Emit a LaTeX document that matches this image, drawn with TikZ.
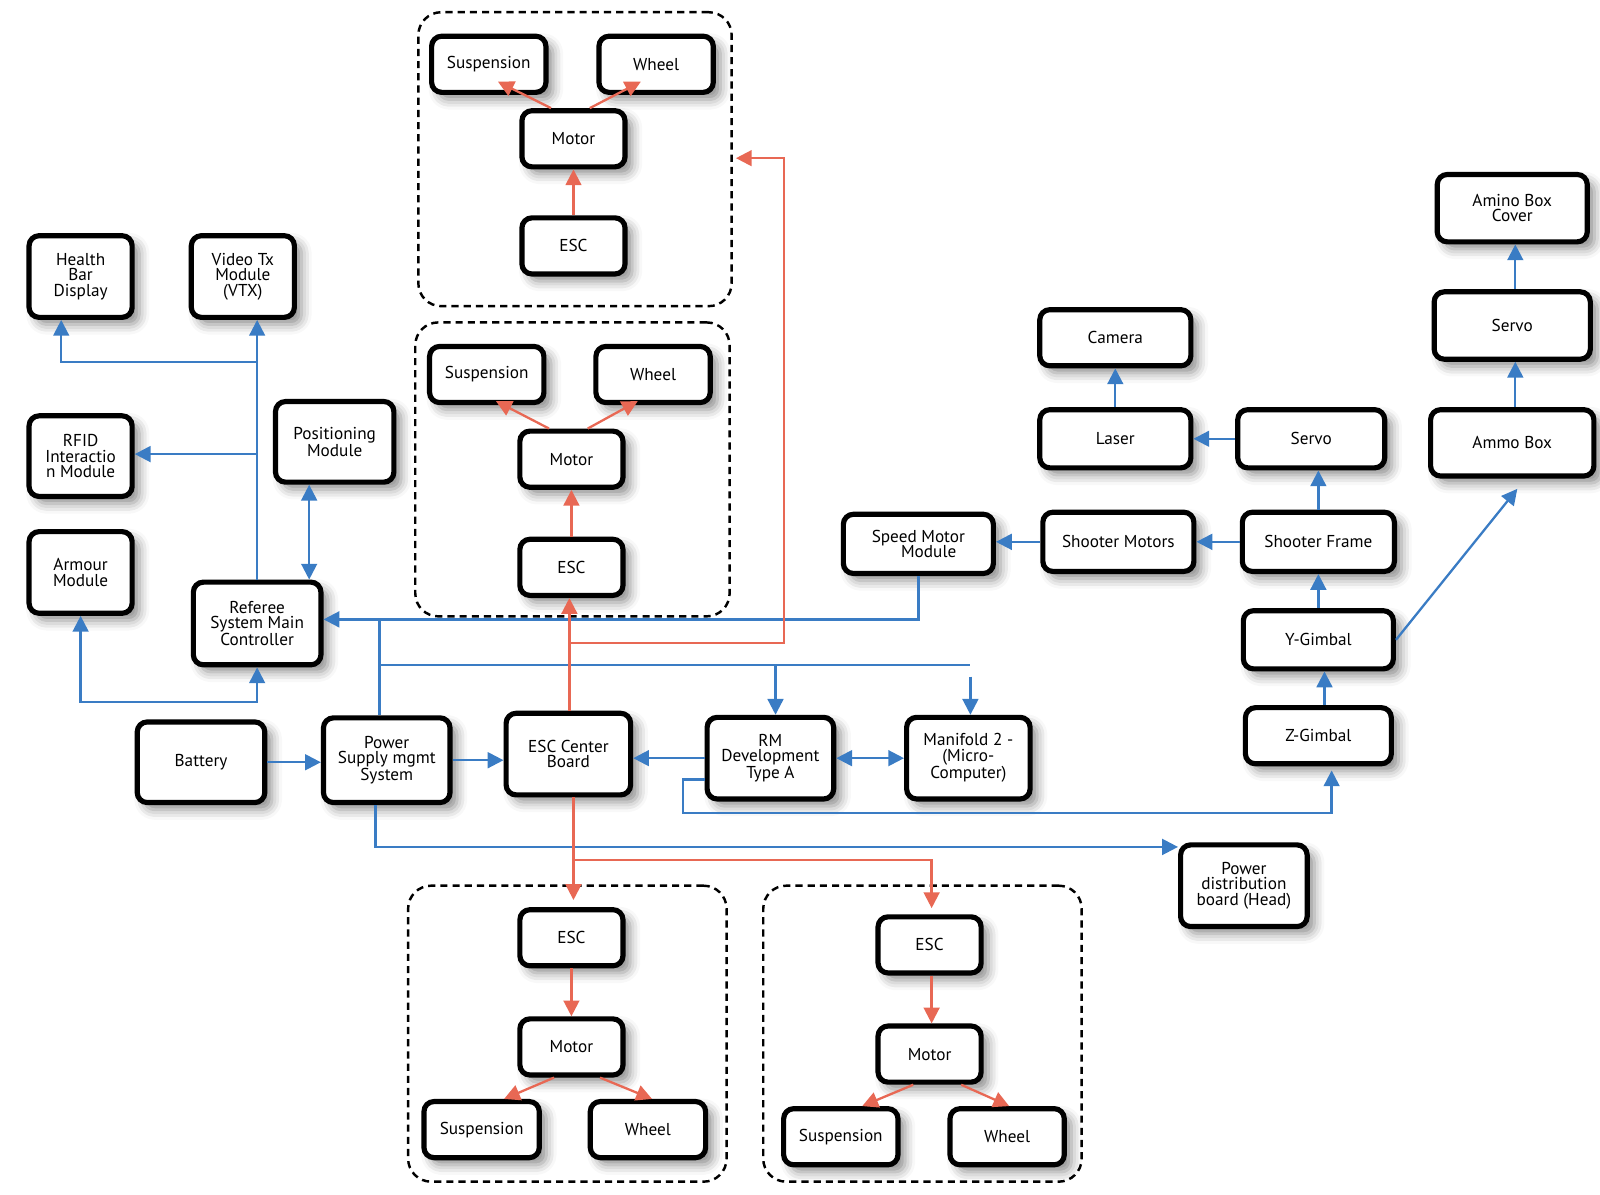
\documentclass[tikz,border=0pt]{standalone}
\usepackage{fontspec}
\setmainfont{PT Sans}
\usetikzlibrary{arrows.meta,shadows.blur}
\definecolor{bluC}{HTML}{3A7CC4}
\definecolor{redC}{HTML}{E86854}
\def\u{0.25mm}
\begin{document}
\begin{tikzpicture}[x=0.025cm,y=-0.025cm,
  font=\fontsize{12}{10.8}\selectfont,
  box/.style={draw=black, line width=3.6pt, fill=white, rounded corners=7pt, align=center, inner sep=2pt,
    blur shadow={shadow xshift=5pt, shadow yshift=-5pt, shadow blur radius=7pt, shadow opacity=45}},
  bx/.style 2 args={minimum width=(#1+4)*\u, minimum height=(#2+3)*\u},
  grp/.style={draw=black, line width=1.7pt, dash pattern=on 5pt off 3.5pt, rounded corners=16pt},
  bl/.style={draw=bluC, line width=1.6pt, -{Triangle[length=11pt,width=11pt]}},
  blb/.style={draw=bluC, line width=1.6pt, {Triangle[length=11pt,width=11pt]}-{Triangle[length=11pt,width=11pt]}},
  bln/.style={draw=bluC, line width=1.6pt},
  rd/.style={draw=redC, line width=1.6pt, -{Triangle[length=11pt,width=11pt]}},
  rdn/.style={draw=redC, line width=1.6pt}
]
\useasboundingbox (0,0) rectangle (1568,1171);

% dashed groups
\node[grp, minimum width=307*\u, minimum height=288*\u] (g1) at (563.5,156) {};
\node[grp, minimum width=308*\u, minimum height=288*\u] (g2) at (561,460) {};
\node[grp, minimum width=312*\u, minimum height=290*\u] (g3) at (556,1013) {};
\node[grp, minimum width=312*\u, minimum height=290*\u] (g4) at (904,1013) {};

% group 1
\node[box, bx={108}{52}] (s1) at (479,63) {Suspension};
\node[box, bx={108}{52}] (w1) at (643,63) {Wheel};
\node[box, bx={97}{52}] (m1) at (562,136) {Motor};
\node[box, bx={97}{52}] (e1) at (562,241) {ESC};
% group 2
\node[box, bx={108}{52}] (s2) at (477,367) {Suspension};
\node[box, bx={108}{52}] (w2) at (640,367) {Wheel};
\node[box, bx={97}{52}] (m2) at (560,450) {Motor};
\node[box, bx={97}{52}] (e2) at (560,556) {ESC};
% group 3
\node[box, bx={97}{52}] (e3) at (560,919) {ESC};
\node[box, bx={97}{52}] (m3) at (560,1026) {Motor};
\node[box, bx={109}{52}] (s3) at (472,1107) {Suspension};
\node[box, bx={109}{52}] (w3) at (635,1107) {Wheel};
% group 4
\node[box, bx={97}{52}] (e4) at (911,926) {ESC};
\node[box, bx={97}{52}] (m4) at (911,1033) {Motor};
\node[box, bx={108}{52}] (s4) at (824,1114) {Suspension};
\node[box, bx={108}{52}] (w4) at (987,1114) {Wheel};

% left
\node[box, bx={97}{77}] (hb) at (79,271) {Health\\Bar\\Display};
\node[box, bx={97}{77}] (vtx) at (238,271) {Video Tx\\Module\\(VTX)};
\node[box, bx={97}{76}] (rfid) at (79,447) {RFID\\Interactio\\n Module};
\node[box, bx={112}{76}] (pos) at (328,433) {Positioning\\Module};
\node[box, bx={97}{77}] (arm) at (79,561) {Armour\\Module};
\node[box, bx={121}{78}] (ref) at (252,611) {Referee\\System Main\\Controller};
\node[box, bx={121}{76}] (bat) at (197,747) {Battery};
\node[box, bx={120}{80}] (psu) at (379,745) {Power\\Supply mgmt\\System};
\node[box, bx={118}{77}] (escc) at (557,739) {ESC Center\\Board};
\node[box, bx={120}{77}] (rm) at (755,743) {RM\\Development\\Type A};
\node[box, bx={117}{77}] (mf) at (949,743) {Manifold 2 -\\(Micro-\\Computer)};
\node[box, bx={120}{77}] (pdb) at (1219,868) {Power\\distribution\\board (Head)};

% right
\node[box, bx={143}{55}] (smm) at (900,533) {Speed Motor\\\hspace*{1.2em}Module};
\node[box, bx={144}{55}] (shm) at (1096,531) {Shooter Motors};
\node[box, bx={145}{55}] (shf) at (1292,531) {Shooter Frame};
\node[box, bx={144}{52}] (cam) at (1093,331) {Camera};
\node[box, bx={144}{54}] (las) at (1093,430) {Laser};
\node[box, bx={140}{54}] (sv1) at (1285,430) {Servo};
\node[box, bx={143}{54}] (yg) at (1292,627) {Y-Gimbal};
\node[box, bx={139}{52}] (zg) at (1292,721) {Z-Gimbal};
\node[box, bx={143}{63}] (abc) at (1482,204) {Amino Box\\Cover};
\node[box, bx={149}{63}] (sv2) at (1482,319) {Servo};
\node[box, bx={156}{62}] (ab) at (1482,434) {Ammo Box};

% ---- blue connectors ----
\coordinate (j1) at (252,355);
\coordinate (j2) at (252,445);
\draw[bl] (ref.north) -- (vtx.south -| ref.north);
\draw[bl] (j1) -| ([xshift=-19*\u]hb.south);
\draw[bl] (j2) -- (j2 -| rfid.east);
\draw[blb] ([xshift=-25*\u]pos.south) -- ([xshift=-25*\u]pos.south |- ref.north);
\coordinate (j3) at (0,688);
\draw[blb] (arm.south) -- (arm.south |- j3) -- (ref.south |- j3) -- (ref.south);
\coordinate (j4) at (372,607);
\draw[bln] (j4 |- psu.north) -- (j4);
\draw[bl] (smm.south) -- (smm.south |- j4) -- (j4 -| ref.east);
\coordinate (j5) at (372,652);
\coordinate (j5e) at (951,652);
\draw[bln] (j4) -- (j5) -- (j5e);
\draw[bl] ([xshift=5*\u]rm.north |- j5) -- ([xshift=5*\u]rm.north);
\coordinate (j6) at (951,663);
\draw[bl] (j6) -- (j6 |- mf.north);
\draw[bl] (bat.east) -- (bat.east -| psu.west);
\draw[bl] (psu.east) -- (psu.east -| escc.west);
\draw[bl] (rm.west) -- (rm.west -| escc.east);
\draw[blb] (rm.east) -- (rm.east -| mf.west);
\coordinate (j8) at (669,764);
\coordinate (j7) at (669,797);
\coordinate (zgt) at (1305,755);
\draw[bl] (j8 -| rm.west) -- (j8) -- (j7) -| (zgt);
\coordinate (j9) at (368,830);
\draw[bl] (j9 |- psu.south) -- (j9) -- (j9 -| pdb.west);
\draw[bl] (shf.west) -- (shf.west -| shm.east);
\draw[bl] (shm.west) -- (shm.west -| smm.east);
\draw[bl] (shf.north) -- (shf.north |- sv1.south);
\draw[bl] (sv1.west) -- (sv1.west -| las.east);
\draw[bl] (las.north) -- (cam.south);
\draw[bl] (yg.north) -- (shf.south);
\draw[bl] ([xshift=6*\u]zg.north) -- ([xshift=6*\u]yg.south);
\draw[bl] (yg.east) -- ([xshift=5*\u,yshift=-10*\u]ab.south);
\draw[bl] ([xshift=3*\u]ab.north) -- ([xshift=3*\u]sv2.south);
\draw[bl] ([xshift=3*\u]sv2.north) -- ([xshift=3*\u]abc.south);

% ---- red connectors ----
\draw[rd] (e1.north) -- (m1.south);
\draw[rd] ([xshift=-22*\u]m1.north) -- ([xshift=9*\u,yshift=13*\u]s1.south);
\draw[rd] ([xshift=16*\u]m1.north) -- ([xshift=-15*\u,yshift=13*\u]w1.south);
\draw[rd] (e2.north) -- (m2.south);
\draw[rd] ([xshift=-22*\u]m2.north) -- ([xshift=9*\u,yshift=4*\u]s2.south);
\draw[rd] ([xshift=16*\u]m2.north) -- ([xshift=-15*\u,yshift=4*\u]w2.south);
\draw[rd] (e3.south) -- (m3.north);
\draw[rd] ([xshift=-17*\u]m3.south) -- ([xshift=22*\u]s3.north);
\draw[rd] ([xshift=28*\u]m3.south) -- ([xshift=4*\u]w3.north);
\draw[rd] ([xshift=2*\u]e4.south) -- ([xshift=2*\u]m4.north);
\draw[rd] ([xshift=-16*\u]m4.south) -- ([xshift=21*\u]s4.north);
\draw[rd] ([xshift=31*\u]m4.south) -- ([xshift=2*\u]w4.north);
\draw[rd] ([xshift=1*\u]escc.north) -- ([xshift=1*\u]escc.north |- e2.south);
\coordinate (r1) at (558,630);
\coordinate (r2) at (768,155);
\draw[rd] (r1) -- (r1 -| r2) -- (r2) -- ([xshift=3*\u]r2 -| g1.east);
\coordinate (r3) at (562,843);
\coordinate (r4) at (562,882);
\coordinate (r5) at (913,843);
\coordinate (r6) at (913,890);
\draw[rd] (r3 |- escc.south) -- (r4);
\draw[rd] (r3) -- (r5) -- (r6);
\end{tikzpicture}
\end{document}
